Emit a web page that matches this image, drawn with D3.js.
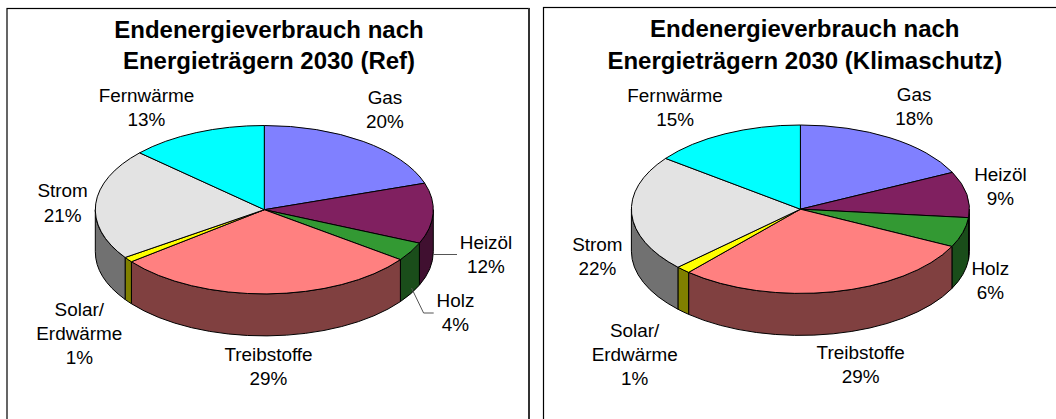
<!DOCTYPE html>
<html><head><meta charset="utf-8">
<script src="https://cdn.jsdelivr.net/npm/d3@7/dist/d3.min.js"></script>
<style>html,body{margin:0;padding:0;background:#fff}svg{display:block}text{font-family:"Liberation Sans",Arial,sans-serif;fill:#000}</style>
</head><body><svg id="c" width="1056" height="419"></svg>
<script>
const categories = ["Gas","Heizöl","Holz","Treibstoffe","Solar/Erdwärme","Strom","Fernwärme"];
const labelLines = [["Gas"],["Heizöl"],["Holz"],["Treibstoffe"],["Solar/","Erdwärme"],["Strom"],["Fernwärme"]];
const refValues = [19.9,11.6,3.6,29.3,1.0,21.4,13.2];
const klimaValues = [17.8,8.8,5.7,29.2,1.4,22.4,14.7];
const refTitle = ["Endenergieverbrauch nach","Energieträgern 2030 (Ref)"];
const klimaTitle = ["Endenergieverbrauch nach","Energieträgern 2030 (Klimaschutz)"];
const topColors = ["#8080ff","#802060","#339933","#ff8080","#ffff00","#e3e3e3","#00ffff"];
const sideColors = ["#404080","#401030","#1a4d1a","#804040","#808000","#717171","#008080"];

// Layout only, no data
const panels = [
 {values:refValues,title:refTitle,cx:264.3,cy:209.7,rx:169,ry:84.2,depth:42,
  titleX:269,titleY:[38,69],
  labels:[[385,104],[486,249],[455.5,307],[268.5,361],[79.3,316],[62.6,197.3],[146.5,101.7]],
  leaders:[[[433.3,254.5],[457,254.5]],[[411.5,288],[423.6,313],[433.7,313]]]},
 {values:klimaValues,title:klimaTitle,cx:800.4,cy:209.2,rx:169,ry:84.2,depth:42,
  titleX:804.8,titleY:[37,68.5],
  labels:[[914.2,100.7],[1000.4,181],[990.3,275],[860.7,359],[634.7,336.7],[597.4,250.7],[675.1,101.7]],
  leaders:[]}
];
const svg = d3.select("#c");
svg.append("rect").attr("x",7).attr("y",8.5).attr("width",522).attr("height",440).attr("fill","#fff").attr("stroke","#000").attr("stroke-width",1.2);
svg.append("line").attr("x1",529).attr("x2",529).attr("y1",8).attr("y2",419).attr("stroke","#333").attr("stroke-width",2);
svg.append("rect").attr("x",543.5).attr("y",7.5).attr("width",540).attr("height",440).attr("fill","#fff").attr("stroke","#000").attr("stroke-width",1.2);

const pie = d3.pie().sort(null).startAngle(0).endAngle(2*Math.PI);
const pct = d3.format(".0f");
const LH = 24.2;

panels.forEach(p=>{
  const g = svg.append("g");
  const slices = pie(p.values);
  const k = p.ry/p.rx;
  const plot = g.append("g").attr("transform",`translate(${p.cx},${p.cy}) scale(1,${k})`);
  const dUnscaled = p.depth/k;
  const wall = (a0,a1)=>{
    const q = d3.path();
    q.arc(0,0,p.rx,a0-Math.PI/2,a1-Math.PI/2,false);
    q.lineTo(p.rx*Math.sin(a1),-p.rx*Math.cos(a1)+dUnscaled);
    q.arc(0,dUnscaled,p.rx,a1-Math.PI/2,a0-Math.PI/2,true);
    q.closePath();
    return q.toString();
  };
  const front = slices.map((s,i)=>({i,a0:Math.max(s.startAngle,Math.PI/2),a1:Math.min(s.endAngle,3*Math.PI/2)})).filter(d=>d.a1>d.a0);
  plot.selectAll("path.w").data(front).join("path").attr("class","w")
    .attr("d",d=>wall(d.a0,d.a1)).attr("fill",d=>sideColors[d.i])
    .attr("stroke","#000").attr("stroke-width",1).attr("vector-effect","non-scaling-stroke").attr("stroke-linejoin","round");
  const arc = d3.arc().innerRadius(0).outerRadius(p.rx);
  plot.selectAll("path.t").data(slices).join("path").attr("class","t")
    .attr("d",arc).attr("fill",(d,i)=>topColors[i])
    .attr("stroke","#000").attr("stroke-width",1).attr("vector-effect","non-scaling-stroke").attr("stroke-linejoin","round");

  const line = d3.line();
  p.leaders.forEach(l=>g.append("path").attr("d",line(l)).attr("fill","none").attr("stroke","#555").attr("stroke-width",1));

  p.title.forEach((t,i)=>g.append("text").attr("x",p.titleX).attr("y",p.titleY[i]).attr("text-anchor","middle")
     .attr("font-weight","bold").attr("font-size",24).text(t));
  categories.forEach((c,i)=>{
    const [x,y]=p.labels[i];
    const lines=[...labelLines[i],pct(p.values[i])+"%"];
    lines.forEach((t,j)=>g.append("text").attr("x",x).attr("y",y+j*LH).attr("text-anchor","middle").attr("font-size",18.9).text(t));
  });
});
</script></body></html>
